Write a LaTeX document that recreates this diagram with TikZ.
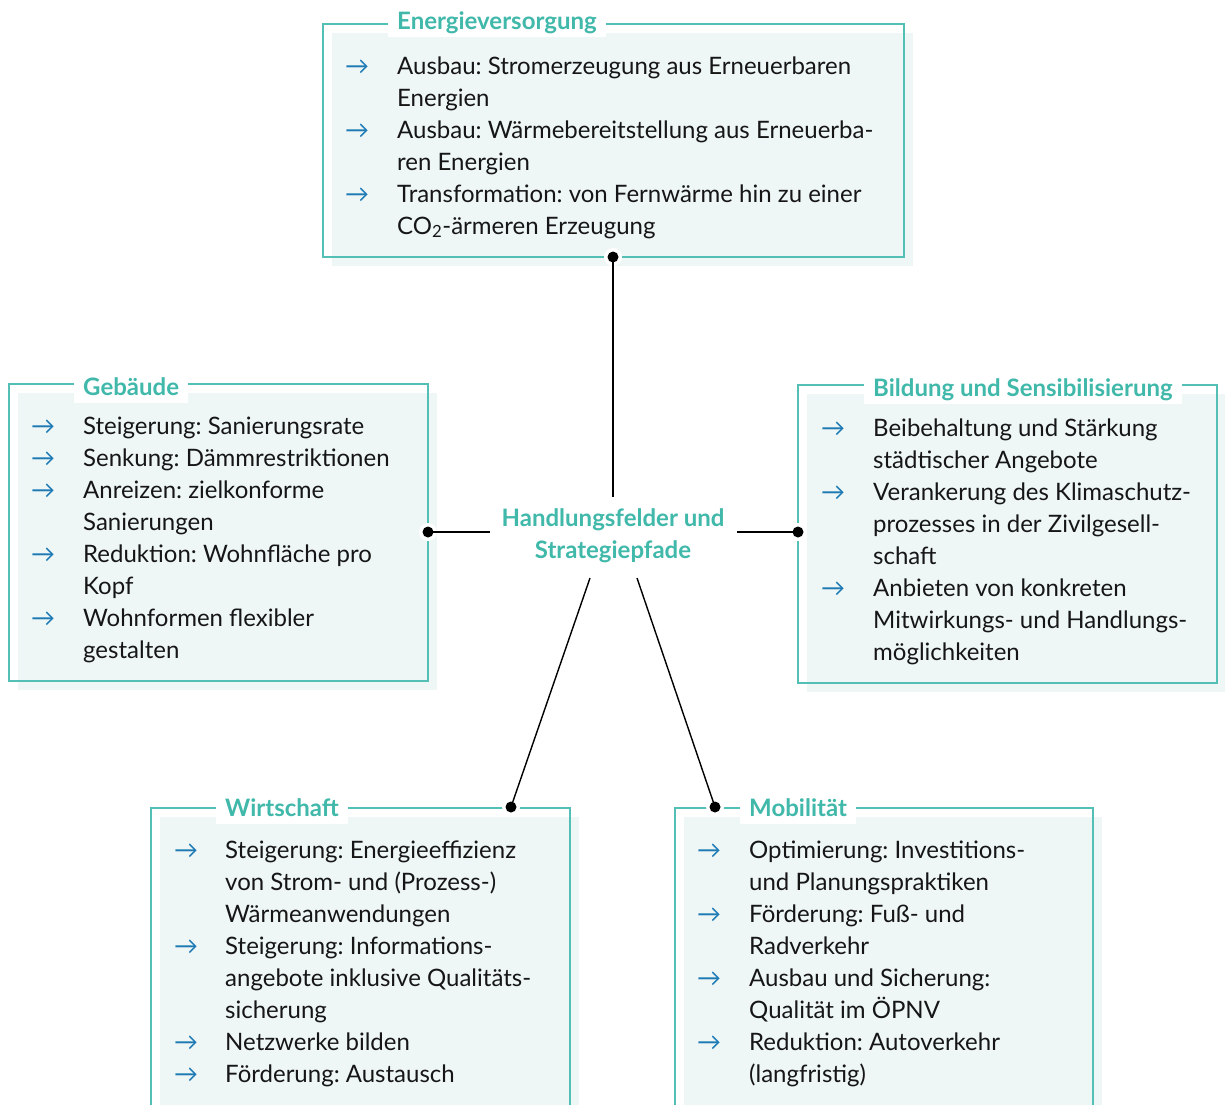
\documentclass[tikz,border=0pt]{standalone}
\usepackage{fontspec}
\setmainfont{Lato}
\usepackage{array}
\frenchspacing
\definecolor{teal}{RGB}{64,184,170}
\definecolor{tealline}{RGB}{84,191,180}
\definecolor{panelbg}{RGB}{238,247,246}
\definecolor{arrowblue}{RGB}{30,122,180}
\definecolor{textblack}{RGB}{22,22,22}
\newcommand\ar{\textcolor{arrowblue}{→}}
\newcommand\bodyfont{\fontsize{24}{32}\selectfont\color{textblack}\frenchspacing}
\newcommand\panel[4]{%
  \fill[panelbg] ({#1+9},{#2+9}) rectangle ({#3+9},{#4+9});
  \draw[tealline, line width=1.5pt] (#1,#2) rectangle (#3,#4);}
\tikzset{
  paneltitle/.style={fill=white, inner xsep=9pt, inner ysep=3pt, text height=17pt, text depth=5pt,
    anchor=base west, font=\fontsize{24}{32}\selectfont\bfseries, text=teal},
  itemlist/.style={anchor=base west, inner sep=0pt, font=\bodyfont},
  dotmark/.style={circle, fill=white, minimum size=18pt, inner sep=0pt,
    path picture={\fill[black] (path picture bounding box.center) circle (5.5pt);}},
  connector/.style={line width=1.4pt, black}
}
\begin{document}
\begin{tikzpicture}[x=1pt,y=-1pt]
\useasboundingbox (0,0) rectangle (1225,1104);
\fill[white] (0,0) rectangle (1225,1104);
\begin{scope}
\clip (0,0) rectangle (1225,1104);
% panels
\panel{323}{24}{904}{257}
\panel{9}{384}{428}{681}
\panel{798}{385}{1217}{683}
\panel{151}{808}{570}{1140}
\panel{675}{808}{1093}{1140}
\end{scope}
% titles
\node[paneltitle] (tE) at (388,29) {Energieversorgung};
\node[paneltitle] (tG) at (74,395) {Gebäude};
\node[paneltitle] (tB) at (864,396) {Bildung und Sensibilisierung};
\node[paneltitle] (tW) at (216,816) {Wirtschaft};
\node[paneltitle] (tM) at (740,816) {Mobilität};
% lists
\node[itemlist] (lE) at (345,74) {\bodyfont\begin{tabular}[t]{@{}p{52pt}@{}l@{}}
\ar & Ausbau: Stromerzeugung aus Erneuerbaren\\
 & Energien\\
\ar & Ausbau: Wärmebereitstellung aus Erneuerba-\\
 & ren Energien\\
\ar & Transformation: von Fernwärme hin zu einer\\
 & CO\textsubscript{2}-ärmeren Erzeugung
\end{tabular}};
\node[itemlist] (lG) at (31,434) {\bodyfont\begin{tabular}[t]{@{}p{52pt}@{}l@{}}
\ar & Steigerung: Sanierungsrate\\
\ar & Senkung: Dämmrestriktionen\\
\ar & Anreizen: zielkonforme\\
 & Sanierungen\\
\ar & Reduktion: Wohnfläche pro\\
 & Kopf\\
\ar & Wohnformen flexibler\\
 & gestalten
\end{tabular}};
\node[itemlist] (lB) at (821,436) {\bodyfont\begin{tabular}[t]{@{}p{52pt}@{}l@{}}
\ar & Beibehaltung und Stärkung\\
 & städtischer Angebote\\
\ar & Verankerung des Klimaschutz-\\
 & prozesses in der Zivilgesell-\\
 & schaft\\
\ar & Anbieten von konkreten\\
 & Mitwirkungs- und Handlungs-\\
 & möglichkeiten
\end{tabular}};
\node[itemlist] (lW) at (174,858) {\bodyfont\begin{tabular}[t]{@{}p{51pt}@{}l@{}}
\ar & Steigerung: Energieeffizienz\\
 & von Strom- und (Prozess-)\\
 & Wärmeanwendungen\\
\ar & Steigerung: Informations-\\
 & angebote inklusive Qualitäts-\\
 & sicherung\\
\ar & Netzwerke bilden\\
\ar & Förderung: Austausch
\end{tabular}};
\node[itemlist] (lM) at (697,858) {\bodyfont\begin{tabular}[t]{@{}p{52pt}@{}l@{}}
\ar & Optimierung: Investitions-\\
 & und Planungspraktiken\\
\ar & Förderung: Fuß- und\\
 & Radverkehr\\
\ar & Ausbau und Sicherung:\\
 & Qualität im ÖPNV\\
\ar & Reduktion: Autoverkehr\\
 & (langfristig)
\end{tabular}};
% hub
\node[anchor=base, inner sep=0pt, font=\fontsize{24}{32}\selectfont\bfseries, text=teal] (hub) at (613,526)
  {\begin{tabular}[t]{@{}c@{}}Handlungsfelder und\\ Strategiepfade\end{tabular}};
\coordinate (hubN) at (613,497);
\coordinate (hubW) at (490,532);
\coordinate (hubE) at (737,532);
\coordinate (hubSW) at (590,578);
\coordinate (hubSE) at (637,578);
% dots
\node[dotmark] (dE) at (613,257) {};
\node[dotmark] (dG) at (428,532) {};
\node[dotmark] (dB) at (798,532) {};
\node[dotmark] (dW) at (511,807) {};
\node[dotmark] (dM) at (715,807) {};
% connectors
\draw[connector] (hubN) -- (dE.center);
\draw[connector] (hubW) -- (dG.center);
\draw[connector] (hubE) -- (dB.center);
\draw[connector] (hubSW) -- (dW.center);
\draw[connector] (hubSE) -- (dM.center);
\end{tikzpicture}
\end{document}
